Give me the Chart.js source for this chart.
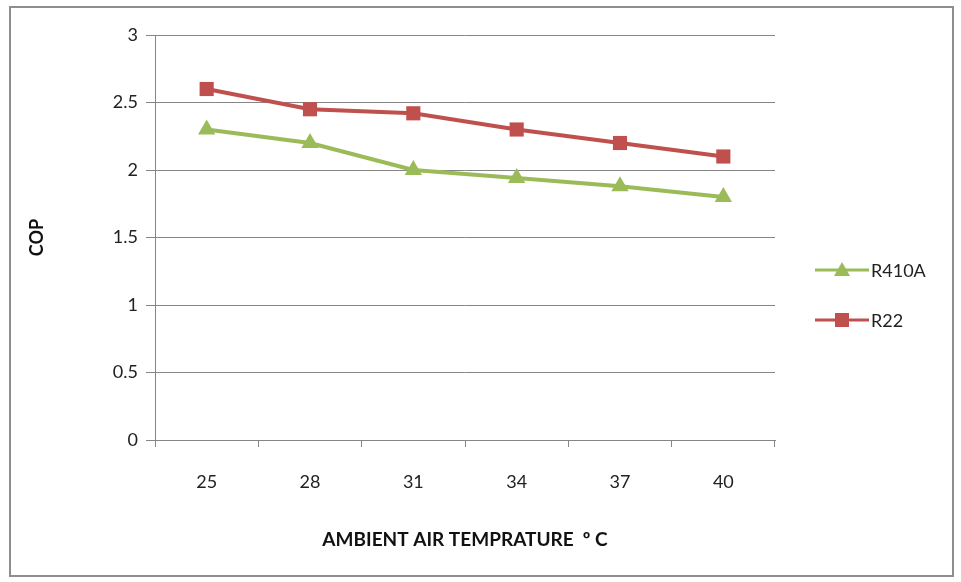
<!DOCTYPE html>
<html>
<head>
<meta charset="utf-8">
<script src="https://cdn.jsdelivr.net/npm/chart.js@4/dist/chart.umd.min.js"></script>
<style>
  html, body { margin: 0; padding: 0; background: #fff; }
  #wrap { position: relative; width: 961px; height: 582px; }
  #frame { position: absolute; left: 9px; top: 6px; width: 941px; height: 567px; border: 2px solid #8e8e8e; pointer-events: none; }
  canvas { position: absolute; left: 0; top: 0; }
</style>
</head>
<body>
<div id="wrap">
  <canvas id="c" width="961" height="582"></canvas>
  <div id="frame"></div>
</div>
<script>
const categories = ['25', '28', '31', '34', '37', '40'];
const r410aValues = [2.3, 2.2, 2.0, 1.94, 1.88, 1.8];
const r22Values = [2.6, 2.45, 2.42, 2.3, 2.2, 2.1];
const yTicks = [0, 0.5, 1, 1.5, 2, 2.5, 3];

const GREEN = '#9bbb59';
const RED = '#c0504d';
const FONT = 'Lato, "Open Sans", sans-serif';

// Legend drawn as line + marker + label, to the right of the plot
const sideLegend = {
  id: 'sideLegend',
  afterDraw(chart) {
    const ctx = chart.ctx;
    const items = [
      { ds: chart.data.datasets[0], y: 270 },
      { ds: chart.data.datasets[1], y: 320 }
    ];
    ctx.save();
    items.forEach(({ ds, y }) => {
      ctx.strokeStyle = ds.borderColor;
      ctx.lineWidth = 3;
      ctx.beginPath();
      ctx.moveTo(815, y);
      ctx.lineTo(869, y);
      ctx.stroke();
      ctx.fillStyle = ds.backgroundColor;
      if (ds.pointStyle === 'triangle') {
        ctx.beginPath();
        ctx.moveTo(842, y - 8);
        ctx.lineTo(850, y + 6);
        ctx.lineTo(834, y + 6);
        ctx.closePath();
        ctx.fill();
      } else {
        ctx.fillRect(835, y - 7, 14, 14);
      }
      ctx.fillStyle = '#222';
      ctx.font = '18px ' + FONT;
      ctx.textBaseline = 'middle';
      ctx.textAlign = 'left';
      ctx.fillText(ds.label, 871, y + 1);
    });
    ctx.restore();
  }
};

new Chart(document.getElementById('c'), {
  type: 'line',
  data: {
    labels: categories,
    datasets: [
      {
        label: 'R410A',
        data: r410aValues,
        borderColor: GREEN,
        backgroundColor: GREEN,
        borderWidth: 4,
        pointStyle: 'triangle',
        pointRadius: 10,
        pointBorderWidth: 0,
        tension: 0
      },
      {
        label: 'R22',
        data: r22Values,
        borderColor: RED,
        backgroundColor: RED,
        borderWidth: 4,
        pointStyle: 'rect',
        pointRadius: 10,
        pointBorderWidth: 0,
        tension: 0
      }
    ]
  },
  options: {
    responsive: false,
    animation: false,
    events: [],
    layout: { padding: { left: 12, right: 186, top: 35, bottom: 12 } },
    plugins: {
      legend: { display: false },
      tooltip: { enabled: false }
    },
    scales: {
      x: {
        type: 'category',
        offset: true,
        grid: {
          offset: true,
          drawOnChartArea: false,
          drawTicks: true,
          tickLength: 7,
          color: '#868686'
        },
        border: { color: '#868686', width: 1 },
        ticks: {
          color: '#222',
          font: { family: FONT, size: 18 },
          padding: 24,
          maxRotation: 0
        },
        title: {
          display: true,
          text: 'AMBIENT AIR TEMPRATURE  º C',
          color: '#111',
          font: { family: FONT, size: 19, weight: 'bold' },
          padding: { top: 10, bottom: 19 }
        },
        afterFit(scale) { scale.height = 582 - 440 - 12; }
      },
      y: {
        min: 0,
        max: 3,
        afterBuildTicks(scale) { scale.ticks = yTicks.map(v => ({ value: v })); },
        grid: {
          color: '#868686',
          lineWidth: 1,
          drawTicks: true,
          tickLength: 9
        },
        border: { color: '#868686', width: 1 },
        ticks: {
          color: '#222',
          font: { family: FONT, size: 18 },
          padding: 8,
          callback: v => String(v)
        },
        title: {
          display: true,
          text: 'COP',
          color: '#111',
          font: { family: FONT, size: 18, weight: 'bold' },
          padding: { top: 14, bottom: 0 }
        },
        afterFit(scale) { scale.width = 155 - 12; }
      }
    }
  },
  plugins: [sideLegend]
});
</script>
</body>
</html>
